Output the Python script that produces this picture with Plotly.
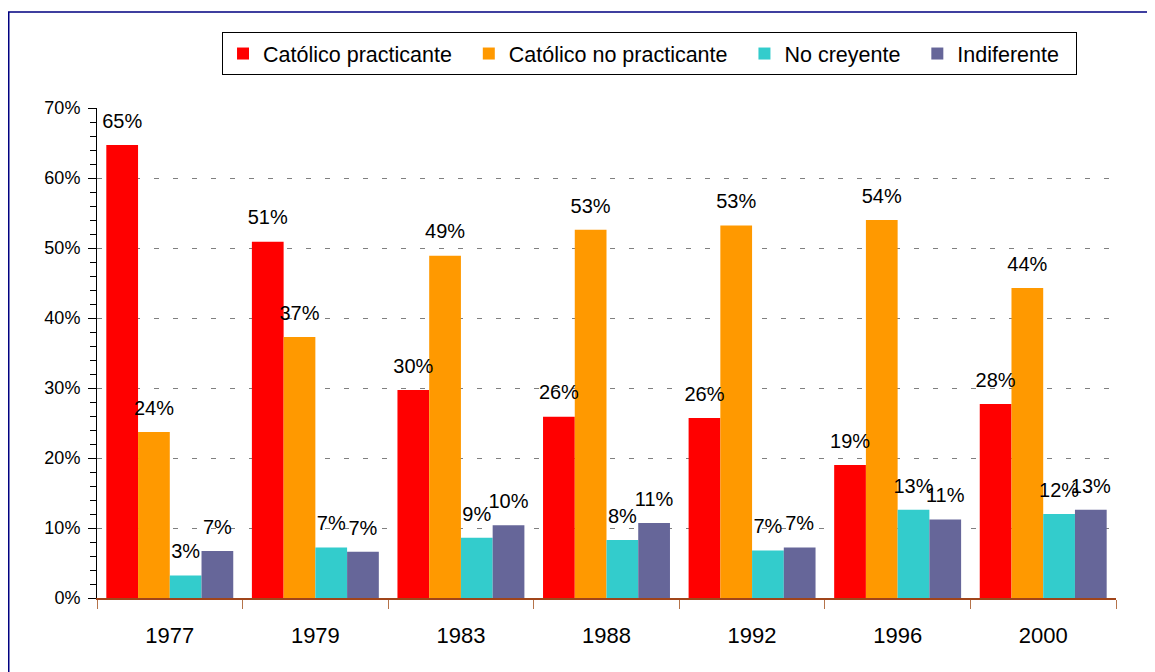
import plotly.graph_objects as go

years = ["1977", "1979", "1983", "1988", "1992", "1996", "2000"]
series_names = ["Católico practicante", "Católico no practicante", "No creyente", "Indiferente"]
catolico_practicante = [0.647, 0.509, 0.297, 0.259, 0.257, 0.190, 0.277]
catolico_no_practicante = [0.237, 0.373, 0.489, 0.526, 0.532, 0.540, 0.443]
no_creyente = [0.032, 0.072, 0.086, 0.083, 0.068, 0.126, 0.120]
indiferente = [0.067, 0.066, 0.104, 0.107, 0.072, 0.112, 0.126]
colors = ["#FF0000", "#FF9900", "#33CCCC", "#666699"]
y_ticks = [0, 0.1, 0.2, 0.3, 0.4, 0.5, 0.6, 0.7]

FONT = "Arial, 'Liberation Sans', sans-serif"
GAP = 0.128
all_series = [catolico_practicante, catolico_no_practicante, no_creyente, indiferente]

fig = go.Figure()
for i, (name, vals, col) in enumerate(zip(series_names, all_series, colors)):
    fig.add_trace(go.Bar(
        x=years, y=vals, name=name + "\u00a0\u00a0",
        marker=dict(color=col, line=dict(width=0)),
        hoverinfo="skip",
    ))
# value labels, grouped like the bars
for i, (name, vals) in enumerate(zip(series_names, all_series)):
    fig.add_trace(go.Scatter(
        x=years, y=vals, mode="markers+text", showlegend=False,
        marker=dict(size=18, opacity=0),
        text=[f"{v:.0%}" for v in vals], textposition="top center",
        textfont=dict(family=FONT, size=20, color="#000000"),
        cliponaxis=False, hoverinfo="skip",
    ))

plot_l, plot_r, plot_t, plot_b = 89, 47, 100, 82
plot_w = 1155 - plot_l - plot_r
plot_h = 672 - plot_t - plot_b

fig.update_layout(
    width=1155, height=672,
    margin=dict(l=plot_l, r=plot_r, t=plot_t, b=plot_b, autoexpand=False),
    paper_bgcolor="white", plot_bgcolor="white",
    barmode="group", bargap=GAP, bargroupgap=0,
    scattermode="group", scattergap=GAP,
    font=dict(family=FONT, color="#000000"),
    showlegend=True,
    legend=dict(
        orientation="h", x=0.1227, xanchor="left", y=1.155, yanchor="top",
        bordercolor="#000000", borderwidth=1, bgcolor="white",
        font=dict(family=FONT, size=21.5, color="#000000"),
        traceorder="normal",
    ),
    xaxis=dict(
        type="category", showline=True, linecolor="#A0451A", linewidth=1.5,
        ticks="outside", tickson="boundaries", ticklen=9, tickcolor="#B5734A",
        tickfont=dict(family=FONT, size=22, color="#000000"),
        ticklabelstandoff=17, showgrid=False,
    ),
    yaxis=dict(
        range=[0, 0.7], tickvals=y_ticks, tickformat=".0%",
        showline=True, linecolor="#000000", linewidth=1,
        ticks="outside", ticklen=8, tickcolor="#000000",
        tickfont=dict(family=FONT, size=18, color="#000000"),
        ticklabelstandoff=4,
        showgrid=True, gridcolor="#808080", gridwidth=1, griddash="5px,14px",
        zeroline=False,
        minor=dict(dtick=0.02, ticks="outside", ticklen=6, tickcolor="#000000", showgrid=False),
    ),
    shapes=[dict(type="rect", xref="paper", yref="paper",
                 x0=(0.75 - plot_l) / plot_w, x1=1.3,
                 y0=-0.4, y1=(plot_t + plot_h - 4) / plot_h,
                 line=dict(color="#000080", width=1.5), fillcolor="rgba(0,0,0,0)", layer="above")],
)

fig.write_html("out.html")
